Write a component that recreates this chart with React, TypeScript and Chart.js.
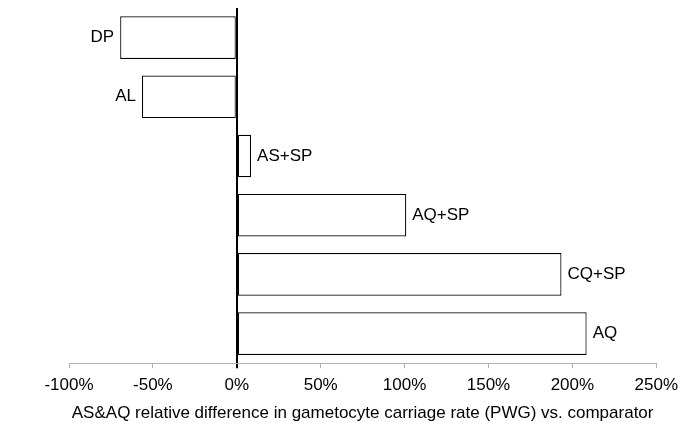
import React, { useEffect, useRef } from "react";
import { Chart, registerables } from "chart.js";

Chart.register(...registerables);

const categories = ["DP", "AL", "AS+SP", "AQ+SP", "CQ+SP", "AQ"];
const values = [-69.5, -56.5, 8.5, 101, 193.5, 208.5];
const xTicks = [-100, -50, 0, 50, 100, 150, 200, 250];
const xTitle = "AS&AQ relative difference in gametocyte carriage rate (PWG) vs. comparator";

const FONT = "'Liberation Sans', Arial, sans-serif";

const labelPlugin = {
  id: "barLabels",
  afterDatasetsDraw(chart: any) {
    const ctx = chart.ctx;
    const meta = chart.getDatasetMeta(0);
    ctx.save();
    ctx.font = `17px ${FONT}`;
    ctx.fillStyle = "#000";
    ctx.textBaseline = "middle";
    meta.data.forEach((el: any, i: number) => {
      const v = values[i];
      if (v < 0) {
        ctx.textAlign = "right";
        ctx.fillText(categories[i], el.x - 6, el.y);
      } else {
        ctx.textAlign = "left";
        ctx.fillText(categories[i], el.x + 6, el.y);
      }
    });
    ctx.restore();
  },
};

export default function App() {
  const ref = useRef<HTMLCanvasElement | null>(null);
  useEffect(() => {
    if (!ref.current) return;
    const chart = new Chart(ref.current, {
      type: "bar",
      data: {
        labels: categories,
        datasets: [
          {
            data: values,
            backgroundColor: "#ffffff",
            borderColor: "#000000",
            borderWidth: 1.2,
            borderSkipped: false,
            barPercentage: 0.72,
            categoryPercentage: 1,
          },
        ],
      },
      options: {
        indexAxis: "y",
        animation: false,
        responsive: true,
        maintainAspectRatio: false,
        layout: { padding: { left: 69, right: 28, top: 8, bottom: 11 } },
        plugins: { legend: { display: false }, tooltip: { enabled: false } },
        scales: {
          y: { display: false },
          x: {
            min: -100,
            max: 250,
            afterBuildTicks: (axis: any) => {
              axis.ticks = xTicks.map((v) => ({ value: v }));
            },
            border: { display: true, color: "#b0b0b0", width: 1 },
            grid: {
              drawOnChartArea: true,
              color: (c: any) => (c.tick && c.tick.value === 0 ? "#000000" : "rgba(0,0,0,0)"),
              lineWidth: (c: any) => (c.tick && c.tick.value === 0 ? 2 : 1),
              tickColor: (c: any) => (c.tick && c.tick.value === 0 ? "#000000" : "#b0b0b0"),
              tickLength: 5,
            },
            ticks: {
              color: "#000",
              font: { family: FONT, size: 17 },
              padding: 7,
              maxRotation: 0,
              callback: (v: any) => `${v}%`,
            },
            title: {
              display: true,
              text: xTitle,
              color: "#000",
              font: { family: FONT, size: 17 },
              padding: { top: 1, bottom: 0 },
            },
          },
        },
      },
      plugins: [labelPlugin],
    });
    return () => chart.destroy();
  }, []);
  return (
    <div style={{ position: "fixed", left: 0, top: 0, width: 685, height: 435, background: "#fff" }}>
      <canvas ref={ref} />
    </div>
  );
}
